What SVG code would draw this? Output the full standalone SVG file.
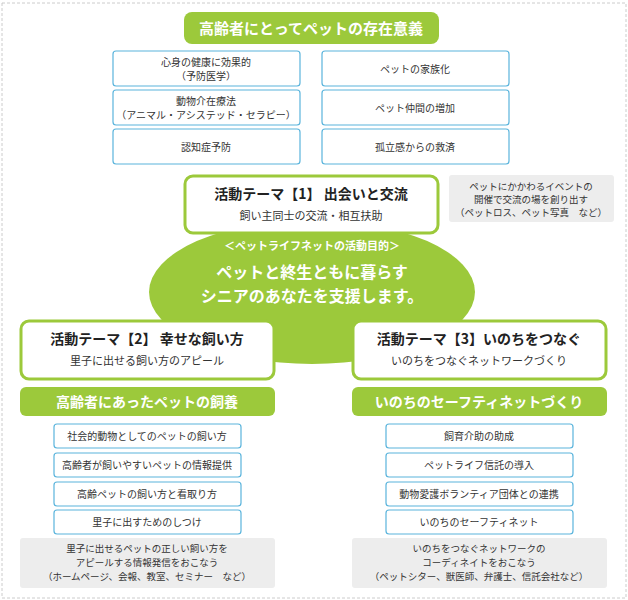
<svg xmlns="http://www.w3.org/2000/svg" width="628" height="600" viewBox="0 0 628 600">
<style>
text{font-family:"Noto Sans CJK JP","Noto Sans",sans-serif;text-anchor:middle;fill:#333}
.bl{fill:#fff;stroke:#5ab4dc;stroke-width:1.2}
.gb{fill:#fff;stroke:#9cc93b;stroke-width:3}
.gr{fill:#ededed}
.g{fill:#9cc93b}
.s{font-size:10px}
.t{font-size:9.5px}
.w{fill:#fff;font-weight:bold}
.h{font-size:14px;font-weight:bold;fill:#222}
</style>
<rect x="2" y="3" width="624" height="595" fill="#fff" stroke="#ccc" stroke-dasharray="3,2"/>
<g id="title"><rect class="g" x="184" y="12" width="255" height="32" rx="8"/><text class="w" x="311" y="34" font-size="15">高齢者にとってペットの存在意義</text></g>
<g id="m1"><rect class="bl" x="113" y="51" width="187" height="35" rx="3"/><text class="s" x="206" y="66">心身の健康に効果的</text><text class="s" x="206" y="80">（予防医学）</text></g>
<g id="m2"><rect class="bl" x="113" y="90" width="187" height="35" rx="3"/><text class="s" x="206" y="105">動物介在療法</text><text class="s" x="206" y="119">（アニマル・アシステッド・セラピー）</text></g>
<g id="m3"><rect class="bl" x="113" y="129" width="187" height="35" rx="3"/><text class="s" x="206" y="151">認知症予防</text></g>
<g id="m4"><rect class="bl" x="322" y="51" width="187" height="35" rx="3"/><text class="s" x="415" y="73">ペットの家族化</text></g>
<g id="m5"><rect class="bl" x="322" y="90" width="187" height="35" rx="3"/><text class="s" x="415" y="112">ペット仲間の増加</text></g>
<g id="m6"><rect class="bl" x="322" y="129" width="187" height="35" rx="3"/><text class="s" x="415" y="151">孤立感からの救済</text></g>
<g id="goal"><ellipse class="g" cx="312" cy="292" rx="163" ry="72"/><text class="w" x="312" y="250" font-size="11">＜ペットライフネットの活動目的＞</text><text class="w" x="312" y="278" font-size="16">ペットと終生ともに暮らす</text><text class="w" x="312" y="302" font-size="16">シニアのあなたを支援します。</text></g>
<g id="t1"><rect class="gb" x="185" y="176" width="253" height="57" rx="8"/><text class="h" x="311" y="199">活動テーマ【1】 出会いと交流</text><text x="311" y="220" font-size="11">飼い主同士の交流・相互扶助</text></g>
<g id="n1"><rect class="gr" x="449" y="175" width="165" height="47" rx="3"/><text class="t" x="531" y="190">ペットにかかわるイベントの</text><text class="t" x="531" y="203">開催で交流の場を創り出す</text><text class="t" x="531" y="216">（ペットロス、ペット写真　など）</text></g>
<g id="t2"><rect class="gb" x="21" y="321" width="253" height="58" rx="8"/><text class="h" x="147" y="344">活動テーマ【2】 幸せな飼い方</text><text x="147" y="365" font-size="11">里子に出せる飼い方のアピール</text></g>
<g id="t3"><rect class="gb" x="353" y="321" width="253" height="58" rx="8"/><text class="h" x="479" y="344">活動テーマ【3】いのちをつなぐ</text><text x="479" y="365" font-size="11">いのちをつなぐネットワークづくり</text></g>
<g id="b2"><rect class="g" x="20" y="387" width="255" height="29" rx="6"/><text class="w" x="147" y="407" font-size="14">高齢者にあったペットの飼養</text></g>
<g id="b3"><rect class="g" x="352" y="387" width="255" height="29" rx="6"/><text class="w" x="479" y="407" font-size="14">いのちのセーフティネットづくり</text></g>
<g id="l1"><rect class="bl" x="54" y="424" width="187" height="24" rx="3"/><text class="s" x="147" y="440">社会的動物としてのペットの飼い方</text></g>
<g id="l2"><rect class="bl" x="54" y="453" width="187" height="24" rx="3"/><text class="s" x="147" y="469">高齢者が飼いやすいペットの情報提供</text></g>
<g id="l3"><rect class="bl" x="54" y="482" width="187" height="24" rx="3"/><text class="s" x="147" y="498">高齢ペットの飼い方と看取り方</text></g>
<g id="l4"><rect class="bl" x="54" y="510" width="187" height="24" rx="3"/><text class="s" x="147" y="526">里子に出すためのしつけ</text></g>
<g id="r1"><rect class="bl" x="386" y="424" width="187" height="24" rx="3"/><text class="s" x="479" y="440">飼育介助の助成</text></g>
<g id="r2"><rect class="bl" x="386" y="453" width="187" height="24" rx="3"/><text class="s" x="479" y="469">ペットライフ信託の導入</text></g>
<g id="r3"><rect class="bl" x="386" y="482" width="187" height="24" rx="3"/><text class="s" x="479" y="498">動物愛護ボランティア団体との連携</text></g>
<g id="r4"><rect class="bl" x="386" y="510" width="187" height="24" rx="3"/><text class="s" x="479" y="526">いのちのセーフティネット</text></g>
<g id="n2"><rect class="gr" x="20" y="538" width="255" height="50" rx="3"/><text class="t" x="147" y="552">里子に出せるペットの正しい飼い方を</text><text class="t" x="147" y="566">アピールする情報発信をおこなう</text><text class="t" x="147" y="580">（ホームページ、会報、教室、セミナー　など）</text></g>
<g id="n3"><rect class="gr" x="352" y="538" width="255" height="50" rx="3"/><text class="t" x="479" y="552">いのちをつなぐネットワークの</text><text class="t" x="479" y="566">コーディネイトをおこなう</text><text class="t" x="479" y="580">（ペットシター、獣医師、弁護士、信託会社など）</text></g>
<g id="connectors"/>
</svg>
